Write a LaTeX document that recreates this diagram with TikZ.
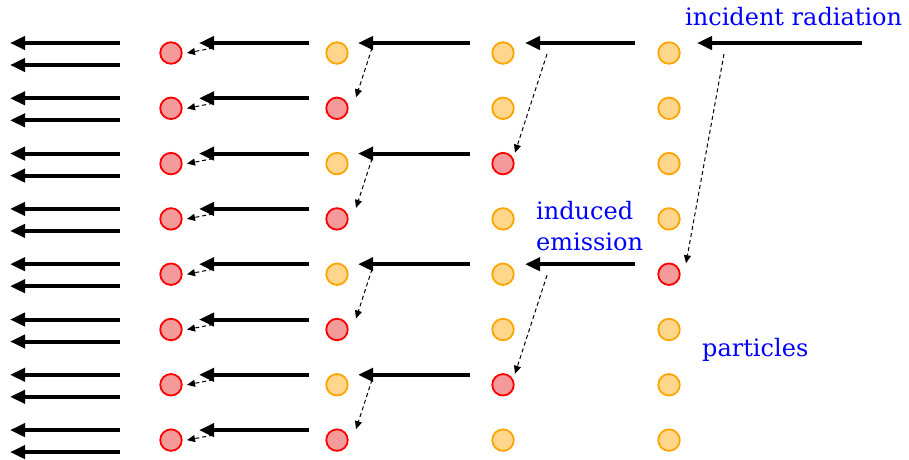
\documentclass[tikz,border=0pt]{standalone}
\usepackage{fontspec}
\setmainfont{DejaVu Serif}
\usetikzlibrary{arrows.meta}
\definecolor{redfill}{HTML}{F49A9A}
\definecolor{orangefill}{HTML}{FFD68C}
\definecolor{orangeline}{HTML}{FFA500}
\begin{document}
\begin{tikzpicture}[x=1pt,y=-1pt,
  redp/.style={circle,draw=red,fill=redfill,line width=1.8pt,minimum size=21.5pt,inner sep=0pt},
  orap/.style={circle,draw=orangeline,fill=orangefill,line width=1.8pt,minimum size=21.5pt,inner sep=0pt},
  beam/.style={line width=4pt,-{Triangle[length=15pt,width=13pt]}},
  emit/.style={line width=1pt,dash pattern=on 4pt off 3pt,-{Triangle[length=8pt,width=7pt]}},
  lbl/.style={anchor=base west,text=blue,inner sep=0pt,font=\fontsize{24}{29}\selectfont}]
\useasboundingbox (0,0) rectangle (909,459);
% particles
\foreach \r in {0,...,7}{
  \pgfmathsetmacro\cy{53+55.3*\r}
  \node[redp] (a\r) at (171,\cy) {};
}
\foreach \r in {0,2,4,6}{
  \pgfmathsetmacro\cy{53+55.3*\r}
  \node[orap] (b\r) at (337,\cy) {};
}
\foreach \r in {1,3,5,7}{
  \pgfmathsetmacro\cy{53+55.3*\r}
  \node[redp] (b\r) at (337,\cy) {};
}
\foreach \r in {0,1,3,4,5,7}{
  \pgfmathsetmacro\cy{53+55.3*\r}
  \node[orap] (c\r) at (503,\cy) {};
}
\foreach \r in {2,6}{
  \pgfmathsetmacro\cy{53+55.3*\r}
  \node[redp] (c\r) at (503,\cy) {};
}
\foreach \r in {0,1,2,3,5,6,7}{
  \pgfmathsetmacro\cy{53+55.3*\r}
  \node[orap] (d\r) at (669,\cy) {};
}
\node[redp] (d4) at (669,274.2) {};
% beams between columns 1 and 2, and outgoing double beams
\foreach \r in {0,...,7}{
  \coordinate (p1t\r) at ([shift={(138,-10)}]a\r.center);
  \coordinate (p1h\r) at ([shift={(28,-10)}]a\r.center);
  \draw[beam] (p1t\r) -- (p1h\r);
  \coordinate (e1s\r) at ([shift={(42,-5)}]a\r.center);
  \coordinate (e1e\r) at ([shift={(16,0)}]a\r.center);
  \draw[emit] (e1s\r) -- (e1e\r);
  \coordinate (o1t\r) at ([shift={(-51,-10)}]a\r.center);
  \coordinate (o1h\r) at ([shift={(-161,-10)}]a\r.center);
  \coordinate (o2t\r) at ([shift={(-51,12)}]a\r.center);
  \coordinate (o2h\r) at ([shift={(-161,12)}]a\r.center);
  \draw[beam] (o1t\r) -- (o1h\r);
  \draw[beam] (o2t\r) -- (o2h\r);
}
% beams between columns 2 and 3
\foreach \r/\n in {0/1,2/3,4/5,6/7}{
  \coordinate (p2t\r) at ([shift={(133,-10)}]b\r.center);
  \coordinate (p2h\r) at ([shift={(21,-10)}]b\r.center);
  \draw[beam] (p2t\r) -- (p2h\r);
  \coordinate (e2s\r) at ([shift={(35,-5)}]b\r.center);
  \coordinate (e2e\r) at ([shift={(19,-11)}]b\n.center);
  \draw[emit] (e2s\r) -- (e2e\r);
}
% beams between columns 3 and 4
\foreach \r/\n in {0/2,4/6}{
  \coordinate (p3t\r) at ([shift={(132,-10)}]c\r.center);
  \coordinate (p3h\r) at ([shift={(22,-10)}]c\r.center);
  \draw[beam] (p3t\r) -- (p3h\r);
  \coordinate (e3s\r) at ([shift={(44,1)}]c\r.center);
  \coordinate (e3e\r) at ([shift={(12,-11)}]c\n.center);
  \draw[emit] (e3s\r) -- (e3e\r);
}
% incident radiation
\coordinate (inT) at ([shift={(193,-10)}]d0.center);
\coordinate (inH) at ([shift={(28,-10)}]d0.center);
\draw[beam] (inT) -- (inH);
\coordinate (e4s) at ([shift={(55,1)}]d0.center);
\coordinate (e4e) at ([shift={(17,-11)}]d4.center);
\draw[emit] (e4s) -- (e4e);
% labels
\node[lbl] (inc) at (685,25) {incident radiation};
\node[lbl] (ind) at (536,219) {induced};
\node[lbl] (emi) at (536,250) {emission};
\node[lbl] (par) at (702,356) {particles};
\end{tikzpicture}
\end{document}
